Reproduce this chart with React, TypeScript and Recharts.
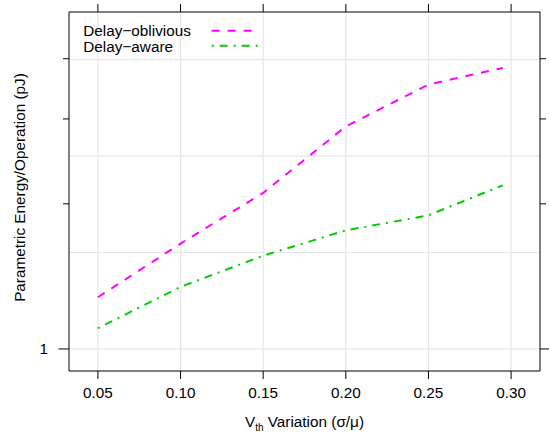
import { LineChart, Line, XAxis, YAxis, CartesianGrid, Legend } from "recharts";

// (log y axis)
const xValues = [0.05, 0.1, 0.15, 0.2, 0.25, 0.295];
const delayOblivious = [1.28, 1.654, 2.107, 2.895, 3.535, 3.828];
const delayAware = [1.104, 1.345, 1.561, 1.762, 1.893, 2.185];

const xTicks = [0.05, 0.1, 0.15, 0.2, 0.25, 0.3];
const yTicks = [1, 2, 3, 4];
const yLabeled = [1];
const gridY = [1, 1.585, 2.512, 3.981];

const seriesNames = ["Delay\u2212oblivious", "Delay\u2212aware"];
const seriesKeys = ["oblivious", "aware"];
const seriesColors = ["#ff00ff", "#00cd00"];
const seriesDashes = ["8 8", "2 6 8 6"];

const data = xValues.map((x, i) => ({
  x,
  oblivious: delayOblivious[i],
  aware: delayAware[i],
}));

const FONT = "'Liberation Sans', Arial, Helvetica, sans-serif";
const FS = 15.3;

function LeftTick({ x, y, payload }: any) {
  const major = yLabeled.includes(payload.value);
  const len = major ? 10.5 : 6;
  return (
    <g>
      <line x1={x - len} x2={x} y1={y} y2={y} stroke="#000" />
      {major && (
        <text x={x - 21} y={y + 5.5} textAnchor="end" fontSize={FS} fill="#000">
          {payload.value}
        </text>
      )}
    </g>
  );
}

function RightTick({ x, y, payload }: any) {
  const len = yLabeled.includes(payload.value) ? 9 : 6;
  return <line x1={x} x2={x + len} y1={y} y2={y} stroke="#000" />;
}

function XLabel({ viewBox }: any) {
  const cx = viewBox.x + viewBox.width / 2;
  const cy = viewBox.y + 56;
  return (
    <text x={cx} y={cy} textAnchor="middle" fontSize={FS} fill="#000">
      <tspan>V</tspan>
      <tspan fontSize={10} dy={4}>th</tspan>
      <tspan dy={-4}> Variation (σ/μ)</tspan>
    </text>
  );
}

function YLabel({ viewBox }: any) {
  const cx = 24.5;
  const cy = viewBox.y + viewBox.height / 2 - 4;
  return (
    <text
      x={cx}
      y={cy}
      transform={`rotate(-90, ${cx}, ${cy})`}
      textAnchor="middle"
      fontSize={FS}
      fill="#000"
    >
      Parametric Energy/Operation (pJ)
    </text>
  );
}

function renderLegend() {
  return (
    <svg width={270} height={60} style={{ display: "block" }}>
      {seriesNames.map((name, i) => (
        <g key={name}>
          <text x={83.3} y={35.7 + 16 * i} fontSize={FS} fill="#000">
            {name}
          </text>
          <line
            x1={211.7}
            x2={257.7}
            y1={30.7 + 15 * i}
            y2={30.7 + 15 * i}
            stroke={seriesColors[i]}
            strokeWidth={2}
            strokeDasharray={seriesDashes[i]}
          />
        </g>
      ))}
    </svg>
  );
}

export default function App() {
  return (
    <div
      style={{
        position: "absolute",
        left: 0,
        top: 0,
        background: "#fff",
        fontFamily: FONT,
      }}
    >
      <LineChart
        width={549}
        height={435}
        data={data}
        margin={{ top: 0, right: 0, bottom: 0, left: 0 }}
      >
        <CartesianGrid
          stroke="#e6e6e6"
          strokeWidth={1.2}
          horizontalValues={gridY}
          verticalValues={xTicks}
        />
        <XAxis
          dataKey="x"
          type="number"
          domain={[0.0325, 0.3175]}
          allowDataOverflow
          ticks={xTicks}
          tickFormatter={(v: number) => v.toFixed(2)}
          height={64}
          tickSize={8}
          tickMargin={8.5}
          stroke="#000"
          tick={{ fill: "#000", fontSize: FS }}
          label={XLabel}
        />
        <XAxis
          xAxisId="top"
          orientation="top"
          dataKey="x"
          type="number"
          domain={[0.0325, 0.3175]}
          allowDataOverflow
          ticks={xTicks}
          height={12}
          tickSize={8}
          stroke="#000"
          tick={() => <g />}
        />
        <YAxis
          scale="log"
          domain={[0.9, 5]}
          allowDataOverflow
          ticks={yTicks}
          width={69}
          tickSize={0}
          tickMargin={0}
          tickLine={false}
          stroke="#000"
          tick={LeftTick}
          label={YLabel}
        />
        <YAxis
          yAxisId="right"
          orientation="right"
          scale="log"
          domain={[0.9, 5]}
          allowDataOverflow
          ticks={yTicks}
          width={9}
          tickSize={0}
          tickMargin={0}
          tickLine={false}
          stroke="#000"
          tick={RightTick}
        />
        {seriesKeys.map((k, i) => (
          <Line
            key={k}
            type="linear"
            dataKey={k}
            name={seriesNames[i]}
            stroke={seriesColors[i]}
            strokeWidth={2}
            strokeDasharray={seriesDashes[i]}
            dot={false}
            isAnimationActive={false}
          />
        ))}
        <Legend
          layout="vertical"
          align="center"
          verticalAlign="middle"
          content={renderLegend}
          wrapperStyle={{ left: 0, top: 0, width: 270, height: 60 }}
        />
      </LineChart>
    </div>
  );
}
